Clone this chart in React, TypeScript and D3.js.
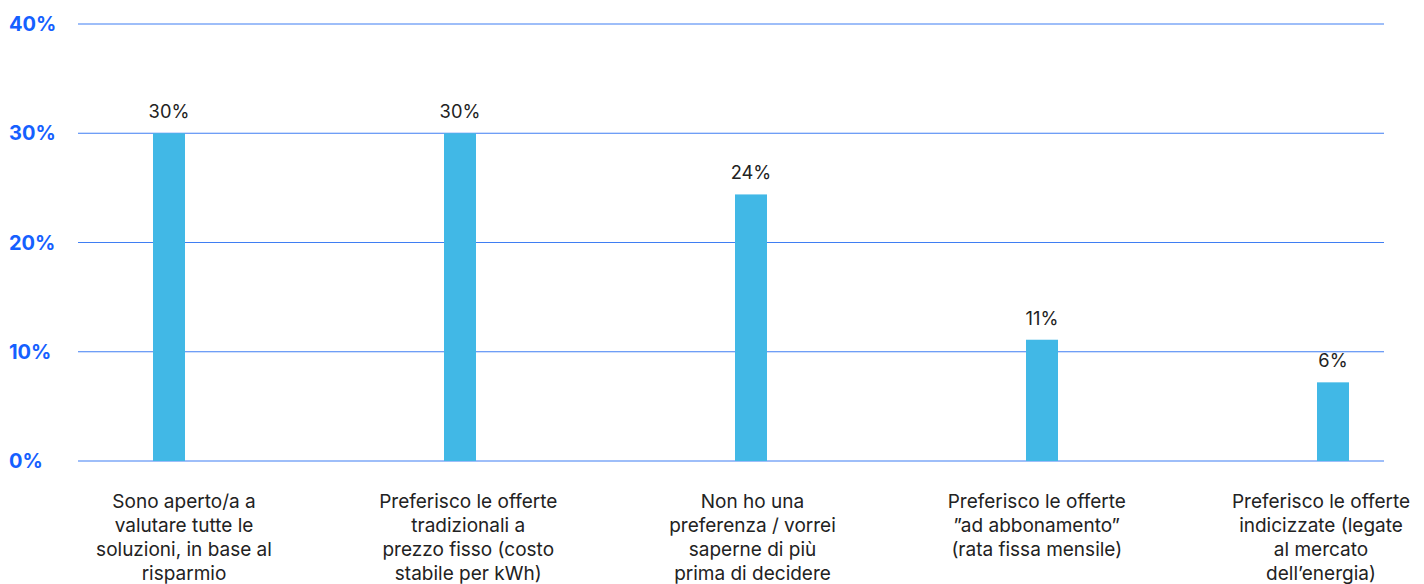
import React from "react";
import * as d3 from "d3";

const categories: string[][] = [
  ["Sono aperto/a a", "valutare tutte le", "soluzioni, in base al", "risparmio"],
  ["Preferisco le offerte", "tradizionali a", "prezzo fisso (costo", "stabile per kWh)"],
  ["Non ho una", "preferenza / vorrei", "saperne di più", "prima di decidere"],
  ["Preferisco le offerte", "\u201Dad abbonamento\u201D", "(rata fissa mensile)"],
  ["Preferisco le offerte", "indicizzate (legate", "al mercato", "dell\u2019energia)"],
];
const values: number[] = [30, 30, 24.4, 11.1, 7.2];
const valueLabels: string[] = ["30%", "30%", "24%", "11%", "6%"];
const yTicks: number[] = [0, 10, 20, 30, 40];

const W = 1424;
const H = 584;

export default function App() {
  const y = d3.scaleLinear().domain([0, 40]).range([461, 24]);
  const idx = d3.range(categories.length);
  const x = d3.scalePoint<number>().domain(idx).range([169, 1333]);
  const xl = d3.scalePoint<number>().domain(idx).range([184, 1321]);
  const barW = 32;
  const font = "Inter, 'Noto Sans', sans-serif";
  return (
    <svg width={W} height={H} style={{ position: "absolute", left: 0, top: 0 }} fontFamily={font}>
      {yTicks.map((t) => (
        <g key={t}>
          <line x1={78} x2={1384} y1={y(t)} y2={y(t)} stroke="#3f7ef3" strokeWidth={1.2} />
          <text x={9} y={y(t)} dy="0.35em" fill="#1560ff" fontWeight={700} fontSize={20}>
            {t}%
          </text>
        </g>
      ))}
      {values.map((v, i) => (
        <g key={i}>
          <rect x={x(i)! - barW / 2} width={barW} y={y(v)} height={y(0) - y(v)} fill="#41b8e6" />
          <text x={x(i)!} y={y(v) - 15} textAnchor="middle" fontSize={18.3} fill="#222">
            {valueLabels[i]}
          </text>
          {categories[i].map((line, j) => (
            <text key={j} x={xl(i)!} y={508 + j * 24} textAnchor="middle" fontSize={19} fill="#222">
              {line}
            </text>
          ))}
        </g>
      ))}
    </svg>
  );
}
